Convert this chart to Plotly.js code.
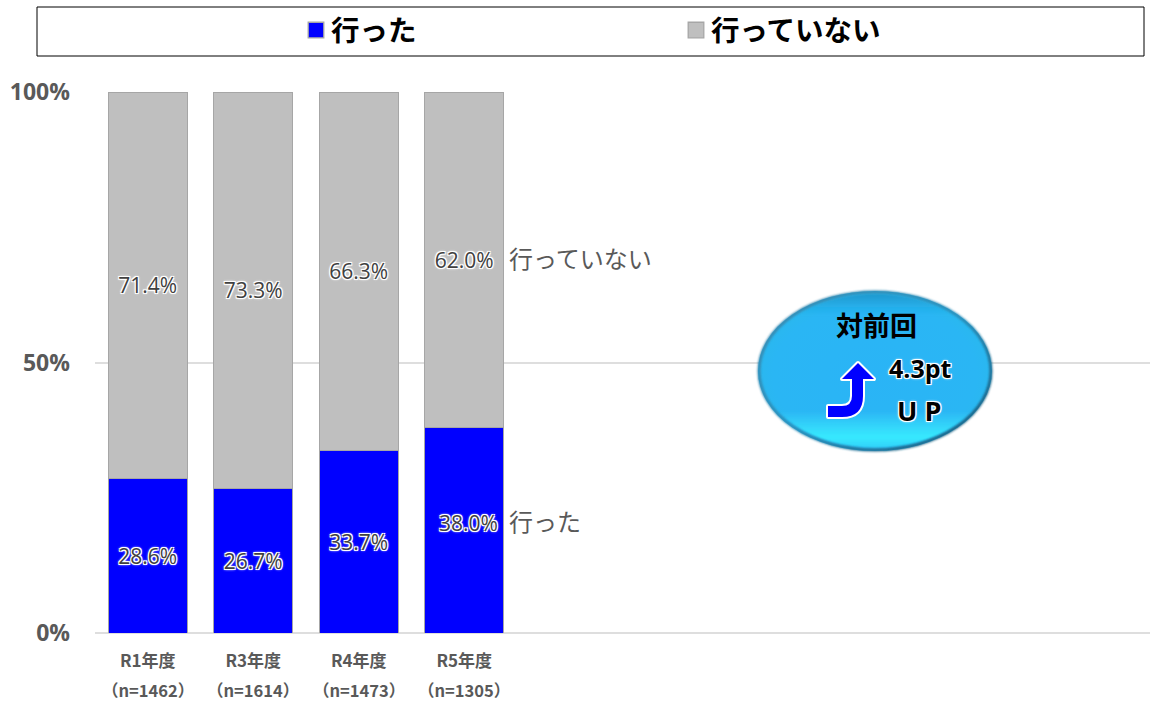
<!DOCTYPE html>
<html><head><meta charset="utf-8">
<script src="https://cdn.plot.ly/plotly-3.0.1.min.js"></script>
<style>html,body{margin:0;padding:0;background:#fff;overflow:hidden}#c{width:1150px;height:701px}</style>
</head><body><div id="c"></div>
<script>
const years = ["R1年度","R3年度","R4年度","R5年度"];
const counts = ["（n=1462）","（n=1614）","（n=1473）","（n=1305）"];
const went = [28.6,26.7,33.7,38.0];
const notWent = [71.4,73.3,66.3,62.0];
const slots = [0,1,2,3];
const nameWent = "行った", nameNot = "行っていない";
const W=1150,H=701,L=95,R=0,T=92,B=68;
const px=x=>(x-L)/(W-L-R), py=y=>1-(y-T)/(H-T-B);
const jp='"Noto Sans CJK JP","Noto Sans",sans-serif', lat='"Open Sans","Noto Sans CJK JP",sans-serif';
const halo='1px 1px 0 #fff, -1px -1px 0 #fff, 1px -1px 0 #fff, -1px 1px 0 #fff, 0 0 3px #fff, 0 0 3px #fff';
const labelFont={family:lat,size:21,color:'#404040',shadow:halo};
const fmt=v=>v.toFixed(1)+'%';
const badge=`<svg xmlns="http://www.w3.org/2000/svg" width="240" height="166" viewBox="0 0 240 166">
<defs>
<radialGradient id="g" cx="50%" cy="52%" r="56%"><stop offset="0" stop-color="#2ab4f6"/><stop offset="0.78" stop-color="#2ab6f4"/><stop offset="0.92" stop-color="#2ab8ee"/><stop offset="1" stop-color="#2296c8"/></radialGradient>
<linearGradient id="h" x1="0" y1="0" x2="0" y2="1"><stop offset="0" stop-color="#1582b4" stop-opacity=".6"/><stop offset=".14" stop-color="#1aa0dc" stop-opacity="0"/><stop offset=".76" stop-color="#40f0ff" stop-opacity="0"/><stop offset=".93" stop-color="#38ecff" stop-opacity=".95"/><stop offset="1" stop-color="#38ecff" stop-opacity=".5"/></linearGradient>
<linearGradient id="s" x1="0" y1="0" x2="1" y2="1"><stop offset="0" stop-color="#3f86aa"/><stop offset=".5" stop-color="#2a8db8"/><stop offset="1" stop-color="#174a66"/></linearGradient>
<filter id="b" x="-5%" y="-5%" width="110%" height="110%"><feGaussianBlur stdDeviation="1"/></filter>
</defs>
<ellipse cx="120" cy="83" rx="117" ry="80" fill="url(#g)"/>
<ellipse cx="120" cy="83" rx="114" ry="77" fill="url(#h)" filter="url(#b)"/>
<ellipse cx="120" cy="83" rx="116" ry="79" fill="none" stroke="url(#s)" stroke-width="3" filter="url(#b)"/>
<path d="M73 118H87Q97 118 97 108V91H87L103 75L119 91H108V108Q108 129 87 129H73Z" fill="#0000ff" stroke="#fff" stroke-width="4" stroke-linejoin="round" paint-order="stroke"/>
</svg>`;
const traces=[
 {type:'bar',name:nameWent,x:slots,y:went,text:went.map((v,i)=>i<3?fmt(v):''),texttemplate:'%{text}',textposition:'inside',insidetextanchor:'middle',textangle:0,insidetextfont:labelFont,marker:{color:'#0000ff',line:{color:'#a6a6a6',width:1}},hoverinfo:'x+y'},
 {type:'bar',name:nameNot,x:slots,y:notWent,text:notWent.map(fmt),texttemplate:'%{text}',textposition:'inside',insidetextanchor:'middle',textangle:0,insidetextfont:labelFont,marker:{color:'#bfbfbf',line:{color:'#a6a6a6',width:1}},hoverinfo:'x+y'}
];
const ann=[];
counts.forEach((t,i)=>ann.push({xref:'x',yref:'paper',x:slots[i],y:py(690),text:t,showarrow:false,font:{family:jp,size:16.5,color:'#595959',weight:700},xanchor:'center',yanchor:'middle'}));
ann.push({xref:'x',yref:'paper',x:slots[3],xshift:4,y:py(523),text:fmt(went[3]),showarrow:false,font:labelFont,xanchor:'center',yanchor:'middle'});
ann.push({xref:'paper',yref:'paper',x:px(507),y:py(520),text:nameWent,showarrow:false,font:{family:jp,size:24,color:'#595959'},xanchor:'left',yanchor:'middle'});
ann.push({xref:'paper',yref:'paper',x:px(507),y:py(257),text:nameNot,showarrow:false,font:{family:jp,size:24,color:'#595959'},xanchor:'left',yanchor:'middle'});
const hw={family:lat,size:25,color:'#000',weight:700,shadow:halo};
ann.push({xref:'paper',yref:'paper',x:px(876),y:py(324),text:'対前回',showarrow:false,font:{family:jp,size:27,color:'#000',weight:700},xanchor:'center',yanchor:'middle'});
ann.push({xref:'paper',yref:'paper',x:px(920),y:py(368),text:'4.3pt',showarrow:false,font:hw,xanchor:'center',yanchor:'middle'});
ann.push({xref:'paper',yref:'paper',x:px(919),y:py(410),text:'U P',showarrow:false,font:Object.assign({},hw,{size:27}),xanchor:'center',yanchor:'middle'});
const layout={
 width:W,height:H,margin:{l:L,r:R,t:T,b:B},barmode:'stack',bargap:0.2525,showlegend:true,
 paper_bgcolor:'#fff',plot_bgcolor:'#fff',
 xaxis:{type:'linear',range:[-0.5,9.5],tickmode:'array',tickvals:slots,ticktext:years,ticks:'',ticklabelstandoff:16,showgrid:false,zeroline:false,showline:false,tickfont:{family:jp,size:17,color:'#595959',weight:700}},
 yaxis:{range:[0,100],tickmode:'array',tickvals:[0,50,100],ticktext:['0%','50%','100%'],ticks:'',ticklabelstandoff:24,showgrid:true,gridcolor:'#dedede',gridwidth:2,zeroline:true,zerolinecolor:'#dedede',zerolinewidth:2,tickfont:{family:lat,size:23,color:'#595959',weight:700}},
 legend:{orientation:'h',x:px(291),y:py(5),xanchor:'left',yanchor:'top',bgcolor:'rgba(0,0,0,0)',borderwidth:0,traceorder:'normal',font:{family:jp,size:28.5,color:'#000',weight:700},entrywidth:335,entrywidthmode:'pixels',itemwidth:30,itemclick:false,itemdoubleclick:false},
 shapes:[{type:'rect',xref:'paper',yref:'paper',x0:px(37),x1:px(1144),y0:py(7),y1:py(56),line:{color:'#000',width:1},fillcolor:'rgba(0,0,0,0)',layer:'above'}],
 images:[{source:'data:image/svg+xml;charset=utf-8,'+encodeURIComponent(badge),xref:'paper',yref:'paper',x:px(755),y:py(288),sizex:240/(W-L-R),sizey:166/(H-T-B),xanchor:'left',yanchor:'top',sizing:'stretch',layer:'above'}],
 annotations:ann,hovermode:'closest'
};
Plotly.newPlot('c',traces,layout,{displayModeBar:false,responsive:false}).then(()=>{
 document.querySelectorAll('#c .legendpoints path').forEach(p=>p.setAttribute('transform','translate(25,0) scale(1.3)'));
});
</script></body></html>
